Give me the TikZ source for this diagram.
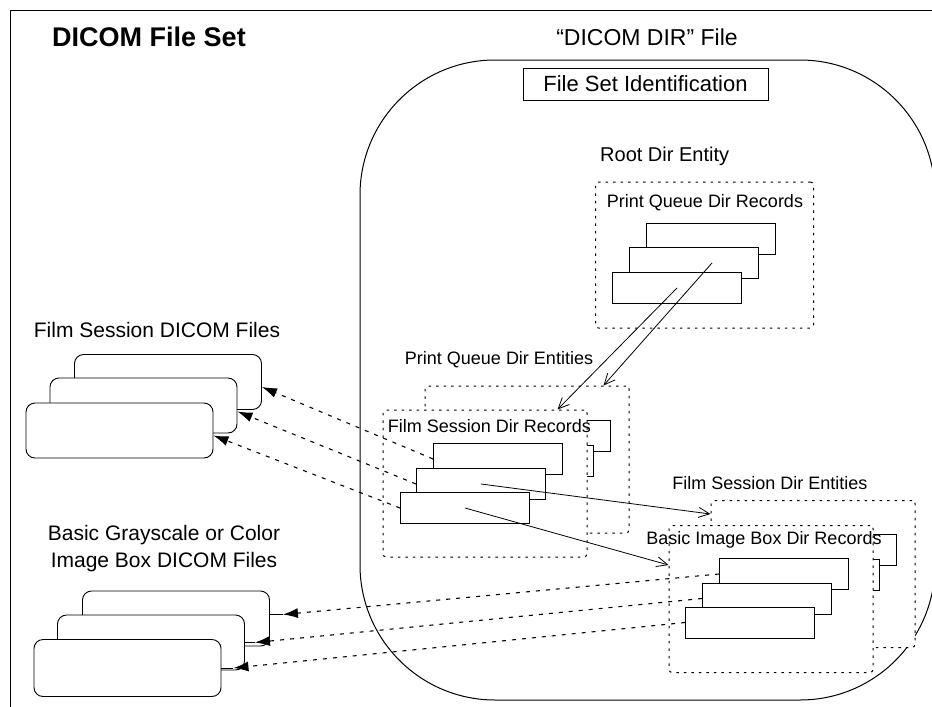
\documentclass[tikz,border=0pt]{standalone}
\usepackage{fontspec}
\setmainfont{Liberation Sans}
\usetikzlibrary{arrows.meta}

\begin{document}
\begin{tikzpicture}[
    x=1pt, y=-1pt,
    rec/.style={draw,fill=white,line width=0.9pt,minimum width=129pt,
                minimum height=31pt,inner sep=0pt},
    dcmfile/.style={draw,fill=white,line width=0.9pt,rounded corners=9pt,
                    minimum width=187pt,minimum height=55pt,inner sep=0pt},
    entity/.style={draw,fill=white,line width=1pt,dash pattern=on 2.5pt off 5pt,
                   rounded corners=3pt,minimum width=204pt,minimum height=147pt,
                   inner sep=0pt},
    lbl/.style={font=\fontsize{18}{20}\selectfont,inner sep=0pt},
    biglbl/.style={font=\fontsize{21}{27}\selectfont,inner sep=0pt,align=center},
    link/.style={line width=0.8pt,-{Straight Barb[length=11pt,width=10pt]}},
    ref/.style={line width=1.1pt,dash pattern=on 4pt off 6pt,
                -{Latex[length=15pt,width=10pt]}}]
  \useasboundingbox (0,0) rectangle (932,707);
  \clip (0,0) rectangle (932,707);

  % file set frame and DICOMDIR file
  \draw[line width=1pt] (10,10) rectangle (950,725);
  \node[font=\bfseries\fontsize{27}{30}\selectfont] (fileset) at (149,37)
        {DICOM File Set};
  \node[font=\fontsize{23}{26}\selectfont] (dirfile) at (647,37)
        {“DICOM DIR” File};
  \draw[line width=1pt,rounded corners=135pt] (360,60) rectangle (935,700);
  \node[draw,line width=1pt,minimum width=245pt,minimum height=32pt,inner sep=0pt,
        font=\fontsize{22}{24}\selectfont] (fsid) at (645.5,84)
        {File Set Identification};

  % root directory entity
  \node[lbl,anchor=west,font=\fontsize{20}{22}\selectfont] (rootlbl) at (600,156)
        {Root Dir Entity};
  \node[entity,minimum width=218pt,minimum height=146pt] (root) at (704.5,255) {};
  \node[lbl] (pqreclbl) at (705,203) {Print Queue Dir Records};
  \node[rec] (pqrec1) at (711,239) {};
  \node[rec] (pqrec2) at (694,263) {};
  \node[rec] (pqrec3) at (677,288) {};

  % print queue directory entities
  \node[lbl] (pqentlbl) at (499,360) {Print Queue Dir Entities};
  \node[entity] (pqback) at (527,459.5) {};
  \node[rec] (fsbrec1) at (546,436) {};
  \node[rec] (fsbrec2) at (529,461) {};
  \node[rec] (fsbrec3) at (513,485) {};
  \node[entity] (pqfront) at (485,483.5) {};
  \node[lbl] (fsreclbl) at (489.5,426) {Film Session Dir Records};
  \node[rec] (fsrec1) at (498,459) {};
  \node[rec] (fsrec2) at (481,484) {};
  \node[rec] (fsrec3) at (465,508) {};

  % film session directory entities
  \node[lbl] (fsentlbl) at (770,483) {Film Session Dir Entities};
  \node[entity] (fsback) at (813,574) {};
  \node[rec] (ibbrec1) at (832,550) {};
  \node[rec] (ibbrec2) at (815,574.5) {};
  \node[rec] (ibbrec3) at (798,598.5) {};
  \node[entity] (fsfront) at (771,599) {};
  \node[lbl] (ibreclbl) at (764,540) {Basic Image Box Dir Records};
  \node[rec] (ibrec1) at (784,574) {};
  \node[rec] (ibrec2) at (767,598.5) {};
  \node[rec] (ibrec3) at (750,622.5) {};

  % referenced DICOM files
  \node[biglbl] (fsfilelbl) at (157,330) {Film Session DICOM Files};
  \node[dcmfile] (fsfile1) at (168,382) {};
  \node[dcmfile] (fsfile2) at (143.5,405.5) {};
  \node[dcmfile] (fsfile3) at (119.5,430.5) {};
  \node[biglbl] (imgfilelbl) at (164,548.5)
        {Basic Grayscale or Color\\Image Box DICOM Files};
  \node[dcmfile] (imgfile1) at (176,618.5) {};
  \node[dcmfile] (imgfile2) at (151,642.5) {};
  \node[dcmfile,minimum height=57pt] (imgfile3) at (127.5,668) {};

  % directory links
  \draw[link] (pqrec3.center) -- ([xshift=-30pt]pqfront.north east);
  \draw[link] ([xshift=18pt]pqrec2.center) -- ([xshift=-26pt]pqback.north east);
  \draw[link] (fsrec2.center) -- ([yshift=-14pt]fsback.north west);
  \draw[link] (fsrec3.center) -- ([yshift=-40pt]fsfront.north west);

  % file references
  \draw[ref] (fsrec1.west) -- ([yshift=-5pt]fsfile1.east);
  \draw[ref] (fsrec2.west) -- ([yshift=-6pt]fsfile2.east);
  \draw[ref] (fsrec3.west) -- ([yshift=-5pt]fsfile3.east);
  \draw[ref] (ibrec1.west) -- ([xshift=13pt,yshift=4pt]imgfile1.east);
  \draw[ref] (ibrec2.west) -- ([xshift=10pt]imgfile2.east);
  \draw[ref] (ibrec3.west) -- ([xshift=12pt]imgfile3.east);
  \draw[line width=0.9pt] ([yshift=4pt]imgfile1.east) -- ++(13,0);
  \draw[line width=0.9pt] (imgfile2.east) -- ++(10,0);
  \draw[line width=0.9pt] (imgfile3.east) -- ++(12,0);
\end{tikzpicture}
\end{document}
